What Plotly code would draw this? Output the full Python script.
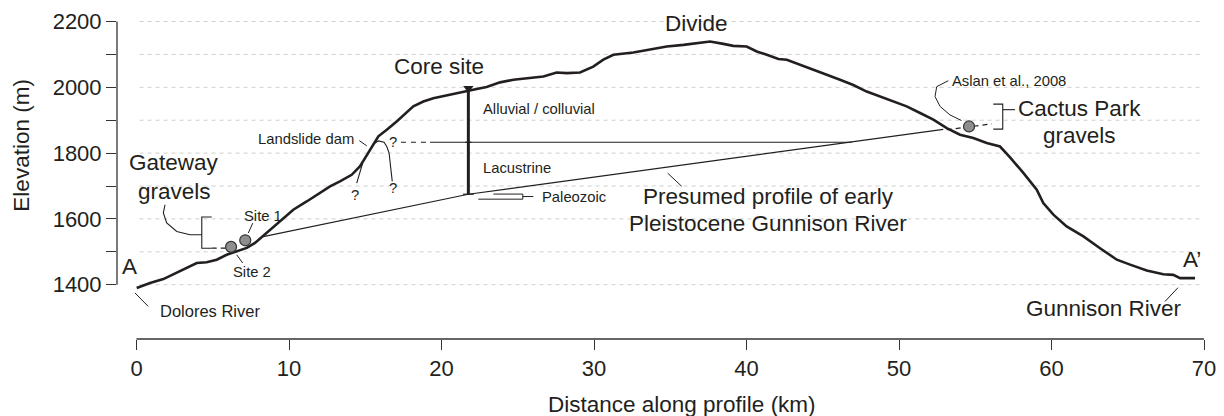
import plotly.graph_objects as go

# ---------------- data ----------------
profile_km = [0.01, 0.89, 1.76, 2.64, 3.51, 3.95, 4.6, 5.26, 5.91, 6.57, 7.23, 7.77, 8.31, 8.97,
              9.63, 10.28, 11.16, 11.82, 12.69, 13.34, 14.11, 14.66, 15.1, 15.53, 15.86, 16.41,
              17.06, 18.15, 18.81, 19.46, 20.12, 20.77, 21.65, 22.31, 22.96, 23.84, 24.71, 25.59,
              26.68, 27.55, 28.21, 29.08, 29.95, 30.61, 31.27, 32.58, 33.89, 34.77, 35.86, 36.95,
              37.61, 38.48, 39.13, 40.01, 40.67, 41.33, 42.09, 42.64, 43.51, 44.38, 45.26, 46.13,
              47.0, 47.88, 48.75, 49.63, 50.5, 51.38, 52.25, 53.13, 54.0, 54.87, 55.75, 56.62,
              57.28, 58.15, 59.03, 59.46, 60.12, 60.99, 62.09, 63.18, 64.28, 65.15, 66.24, 67.33,
              67.98, 68.43, 69.41]
profile_m = [1390, 1405, 1417, 1436, 1456, 1466, 1468, 1476, 1491, 1501, 1512, 1527, 1549, 1577,
             1603, 1628, 1653, 1674, 1699, 1714, 1734, 1760, 1795, 1826, 1851, 1871,
             1896, 1942, 1957, 1967, 1974, 1980, 1990, 1995, 2001, 2015, 2023, 2027,
             2033, 2045, 2043, 2045, 2063, 2084, 2099, 2106, 2116, 2124, 2129, 2134,
             2139, 2132, 2126, 2124, 2109, 2099, 2086, 2084, 2068, 2053, 2038, 2023,
             2007, 1987, 1972, 1957, 1942, 1922, 1902, 1876, 1856, 1846, 1831, 1820,
             1787, 1740, 1689, 1648, 1613, 1577, 1547, 1511, 1476, 1461, 1443, 1432,
             1430, 1420, 1420]

presumed_km = [8.31, 21.76, 52.9]
presumed_m = [1546, 1675, 1872]

gravel_km = [6.2, 7.13]        # Site 2, Site 1
gravel_m = [1515, 1535]
aslan_km = [54.59]
aslan_m = [1881]

core_km = 21.76
core_m = [1993, 1675]
lake_m = 1833
lake_km = [19.25, 46.9]
lake_dash_km = [17.34, 19.25]

dam_left_km = [14.83, 14.66, 14.44]
dam_left_m = [1770, 1743, 1709]
dam_arch_km = [15.49, 15.86, 16.23, 16.41, 16.56, 16.62, 16.72, 16.77]
dam_arch_m = [1827, 1837, 1833, 1820, 1801, 1780, 1749, 1714]

x_ticks = [0, 10, 20, 30, 40, 50, 60, 70]
y_ticks = [1400, 1500, 1600, 1700, 1800, 1900, 2000, 2100, 2200]
y_labels = ["1400", "", "1600", "", "1800", "", "2000", "", "2200"]

FONT = "Liberation Sans, Arial, Helvetica, sans-serif"
INK = "#231f20"
BIG = 22.5
SMALL = 14.8

fig = go.Figure()

def line(xs, ys, width=1.0, color=INK, dash=None):
    fig.add_trace(go.Scatter(x=xs, y=ys, mode="lines",
                             line=dict(color=color, width=width, dash=dash),
                             hoverinfo="skip", showlegend=False))

# dashed grid lines
for v in y_ticks:
    line([0.2, 69.9], [v, v], width=1, color="#cfcfcf", dash="4px,4px")

# presumed profile, lake level
line(presumed_km, presumed_m, width=1.2)
line(lake_km, [lake_m, lake_m], width=1.2)
line(lake_dash_km, [lake_m, lake_m], width=1.2, dash="5px,5px")

# landslide dam outline
line(dam_left_km, dam_left_m, width=1.1)
line(dam_arch_km, dam_arch_m, width=1.1)

# core site
line([core_km, core_km], core_m, width=3)
line([core_km - 0.2, core_km + 0.2], [lake_m, lake_m], width=1.2)
line([core_km - 0.35, core_km + 0.35], [core_m[1], core_m[1]], width=1.2)
fig.add_trace(go.Scatter(x=[core_km], y=[core_m[0] + 4], mode="markers",
                         marker=dict(symbol="triangle-down", size=9, color=INK),
                         hoverinfo="skip", showlegend=False))

# Paleozoic symbol
line([22.41, 25.33, 25.33, 23.4], [1660, 1660, 1675.5, 1675.5], width=1)
line([25.33, 26.02], [1668, 1668], width=1)

# Gateway bracket and leader
line([4.93, 4.28, 4.28, 4.93], [1606, 1606, 1511, 1511], width=1.1)
line([4.28, 3.51, 2.64, 1.98, 1.76, 1.87], [1552, 1552, 1562, 1588, 1618, 1643], width=1.1)
line([4.93, 5.87], [1511, 1511], width=1.2, dash="5px,4px")

# Cactus Park bracket, dashes, leader
line([56.18, 56.8, 56.8, 56.18], [1949, 1949, 1873, 1873], width=1.1)
line([56.8, 57.61], [1932, 1932], width=1.1)
line([53.13, 56.08], [1871, 1889], width=1.2, dash="5px,4px")
line([53.23, 52.47, 52.36, 52.69, 53.34, 54.1], [2020, 2002, 1972, 1942, 1916, 1899], width=1)

# leaders
line([7.62, 7.33], [1587, 1557], width=1)          # Site 1
line([6.57, 6.96], [1491, 1466], width=1)          # Site 2
line([14.61, 15.1], [1838, 1822], width=1)         # Landslide dam
line([34.83, 35.75], [1739, 1699], width=1)        # presumed profile
line([-0.1, 0.77], [1375, 1334], width=1)          # Dolores
line([68.29, 67.44], [1391, 1349], width=1)        # Gunnison

# topographic profile
line(profile_km, profile_m, width=2.6)

# gravel sites
fig.add_trace(go.Scatter(x=gravel_km + aslan_km, y=gravel_m + aslan_m, mode="markers",
                         marker=dict(size=11, color="#8e8e8e", line=dict(color="#333333", width=1.2)),
                         hoverinfo="skip", showlegend=False))

# axis lines as shapes
fig.add_shape(type="line", xref="paper", yref="y", x0=0, x1=0, y0=y_ticks[0], y1=y_ticks[-1],
              line=dict(color="#333333", width=1.3))
fig.add_shape(type="line", xref="x", yref="paper", x0=x_ticks[0], x1=x_ticks[-1], y0=0, y1=0,
              line=dict(color="#333333", width=1.3))

def text(x, y, s, size=BIG, xanchor="center", yanchor="middle", xref="x", yref="y", angle=0):
    fig.add_annotation(x=x, y=y, text=s, xref=xref, yref=yref, showarrow=False,
                       xanchor=xanchor, yanchor=yanchor, textangle=angle,
                       font=dict(family=FONT, size=size, color=INK))

text(36.73, 2195, "Divide")
text(19.82, 2063, "Core site")
text(22.59, 1935, "Alluvial / colluvial", size=SMALL, xanchor="left")
text(22.59, 1756, "Lacustrine", size=SMALL, xanchor="left")
text(26.45, 1668, "Paleozoic", size=SMALL, xanchor="left")
text(41.41, 1668, "Presumed profile of early")
text(41.41, 1585, "Pleistocene Gunnison River")
text(14.38, 1843, "Landslide dam", size=SMALL, xanchor="right")
text(16.84, 1835, "?", size=SMALL)
text(14.33, 1673, "?", size=SMALL)
text(16.8, 1694, "?", size=SMALL)
text(2.46, 1770, "Gateway")
text(2.46, 1683, "gravels")
text(8.31, 1608, "Site 1", size=SMALL)
text(7.55, 1440, "Site 2", size=SMALL)
text(-0.43, 1456, "A")
text(1.38, 1319, "Dolores River", size=16.5, xanchor="left")
text(53.33, 2020, "Aslan et al., 2008", size=SMALL, xanchor="left")
text(57.7, 1935, "Cactus Park", xanchor="left")
text(61.8, 1854, "gravels")
text(69.19, 1476, "A\u2019")
text(63.46, 1329, "Gunnison River")

# axis titles
text(0.5165, -0.1976, "Distance along profile (km)", xref="paper", yref="paper")
text(-0.0872, 0.581, "Elevation (m)", xref="paper", yref="paper", angle=-90)

axis_font = dict(family=FONT, size=22, color=INK)
fig.update_xaxes(range=[-1.279, 70.39], tickvals=x_ticks, ticktext=[str(v) for v in x_ticks],
                 ticks="outside", ticklen=10, tickwidth=1.3, tickcolor="#333333",
                 showgrid=False, zeroline=False, showline=False, tickfont=axis_font)
fig.update_yaxes(range=[1234.96, 2250.2], tickvals=y_ticks, ticktext=y_labels,
                 ticks="outside", ticklen=10, tickwidth=1.3, tickcolor="#333333",
                 showgrid=False, zeroline=False, showline=False, tickfont=axis_font)

fig.update_layout(width=1224, height=416, autosize=False, template="none",
                  margin=dict(l=117, r=14, t=5, b=77),
                  paper_bgcolor="white", plot_bgcolor="white", showlegend=False)

fig.write_html("out.html")
